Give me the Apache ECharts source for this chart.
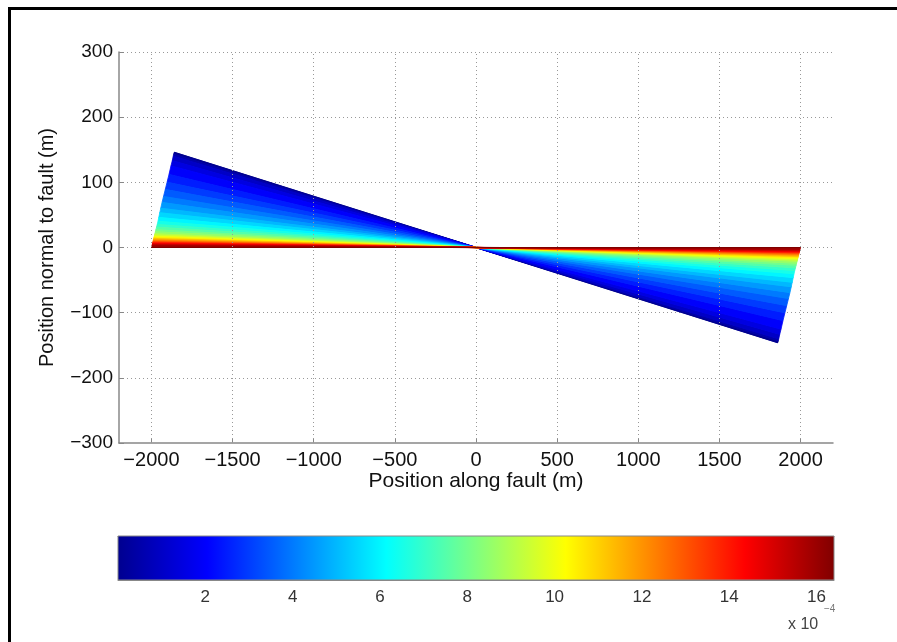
<!DOCTYPE html>
<html>
<head>
<meta charset="utf-8">
<title>Fault rotation</title>
<script src="https://cdn.jsdelivr.net/npm/echarts@6.0.0/dist/echarts.min.js"></script>
<style>
  html, body { margin: 0; padding: 0; background: #fff; }
  #chart { width: 897px; height: 642px; }
</style>
</head>
<body>
<div id="chart"></div>
<script>
// strain value of each line (x 10^-4), used for the colour
const strain = [0, 0.5, 1, 1.5, 2, 2.5, 3, 3.5, 4, 4.5, 5, 5.5, 6, 6.5, 7, 7.5, 8, 8.5,
  9, 9.5, 10, 10.5, 11, 11.5, 12, 12.5, 13, 13.5, 14, 14.5, 15, 15.5, 16, 16.4];
// left end of each line (m); every line runs through the origin to (-x, -y)
const leftX = [-1860, -1863, -1866, -1872, -1880, -1892, -1904, -1915, -1926, -1935, -1943,
  -1949, -1955, -1960, -1965, -1969, -1973, -1976, -1979, -1981, -1983, -1985, -1986, -1987,
  -1989, -1990, -1991, -1992, -1993, -1994, -1995, -1996, -1998, -2000];
const leftY = [146, 143, 140, 133, 125, 112, 100, 89, 78, 69, 60, 53, 46, 40, 35, 31, 27, 24,
  21, 19, 17, 15.5, 14, 12.8, 11.5, 10.3, 9, 8, 7, 6, 5, 3.6, 2, 0];

// tick values
const xTicks = [-2000, -1500, -1000, -500, 0, 500, 1000, 1500, 2000];
const barTicks = [2, 4, 6, 8, 10, 12, 14, 16];

const strainMax = 16.4;
const jet = ["#00008f", "#0000ff", "#0080ff", "#00ffff", "#80ff80", "#ffff00", "#ff8000", "#ff0000", "#800000"];

let chart = echarts.init(document.getElementById("chart"));

const minus = (v) => String(v).replace("-", "\u2212");
const font = "'Liberation Sans', Arial, Helvetica, sans-serif";
const gridLine = { color: "#999", type: [1, 3], width: 1 };

let option = {
  animation: false,
  backgroundColor: "#fff",
  textStyle: { fontFamily: font },
  grid: [
    { left: 119, right: 64, top: 52, bottom: 199 },
    // colour bar
    { left: 118, right: 63, top: 536, height: 44 },
  ],
  visualMap: {
    type: "continuous",
    show: false,
    min: 0,
    max: strainMax,
    dimension: 2,
    seriesIndex: 0,
    inRange: { color: jet },
  },
  xAxis: [
    {
      gridIndex: 0,
      type: "value",
      min: -2200,
      max: 2200,
      name: "Position along fault (m)",
      nameLocation: "middle",
      nameGap: 28,
      nameMoveOverlap: false,
      nameTextStyle: { fontSize: 21, color: "#111", fontFamily: font },
      axisLine: { onZero: false, lineStyle: { color: "#888", width: 1.5 } },
      axisTick: { inside: true, length: 5, customValues: xTicks, lineStyle: { color: "#888" } },
      axisLabel: { fontSize: 20, color: "#111", margin: 7, customValues: xTicks, formatter: minus },
      splitLine: { show: false },
    },
    {
      gridIndex: 1,
      type: "value",
      min: 0,
      max: strainMax,
      axisLine: { onZero: false, lineStyle: { color: "#888" } },
      axisTick: { inside: true, length: 4, customValues: barTicks, lineStyle: { color: "#444" } },
      axisLabel: { fontSize: 17, color: "#333", margin: 9, customValues: barTicks },
      splitLine: { show: false },
    },
    {
      gridIndex: 1,
      type: "value",
      position: "top",
      min: 0,
      max: strainMax,
      axisLine: { onZero: false, lineStyle: { color: "#888" } },
      axisTick: { inside: true, length: 4, customValues: barTicks, lineStyle: { color: "#444" } },
      axisLabel: { show: false },
      splitLine: { show: false },
    },
  ],
  yAxis: [
    {
      gridIndex: 0,
      type: "value",
      min: -300,
      max: 300,
      interval: 100,
      name: "Position normal to fault (m)",
      nameLocation: "middle",
      nameGap: 62,
      nameTextStyle: { fontSize: 20, color: "#111", fontFamily: font },
      axisLine: { show: true, onZero: false, lineStyle: { color: "#888", width: 1.5 } },
      axisTick: { show: true, inside: true, length: 5, lineStyle: { color: "#888" } },
      axisLabel: { fontSize: 19, color: "#111", margin: 6, formatter: minus },
      splitLine: { show: true, showMinLine: false, lineStyle: gridLine },
    },
    {
      gridIndex: 1,
      type: "value",
      min: 0,
      max: 1,
      show: false,
    },
  ],
  series: [
    {
      // fan of rotated lines, filled between neighbours
      type: "custom",
      xAxisIndex: 0,
      yAxisIndex: 0,
      data: strain.map((c, i) => [leftX[i], leftY[i], c]),
      encode: { x: 0, y: 1 },
      z: 3,
      renderItem: function (params, api) {
        let i = params.dataIndex;
        let color = api.visual("color");
        let o = api.coord([0, 0]);
        let a = api.coord([leftX[i], leftY[i]]);
        let a2 = api.coord([-leftX[i], -leftY[i]]);
        let children = [
          { type: "line", shape: { x1: a[0], y1: a[1], x2: a2[0], y2: a2[1] }, style: { stroke: color, lineWidth: 1.2 } },
        ];
        if (i < strain.length - 1) {
          let b = api.coord([leftX[i + 1], leftY[i + 1]]);
          let b2 = api.coord([-leftX[i + 1], -leftY[i + 1]]);
          children.unshift(
            { type: "polygon", shape: { points: [o, a, b] }, style: { fill: color, stroke: color, lineWidth: 0.8 } },
            { type: "polygon", shape: { points: [o, a2, b2] }, style: { fill: color, stroke: color, lineWidth: 0.8 } }
          );
        }
        return { type: "group", children: children };
      },
    },
    {
      // vertical dotted grid lines
      type: "line",
      xAxisIndex: 0,
      yAxisIndex: 0,
      data: [],
      z: 1,
      markLine: {
        silent: true,
        symbol: "none",
        label: { show: false },
        lineStyle: gridLine,
        data: xTicks.map((v) => ({ xAxis: v })),
      },
    },
    {
      // colour bar
      type: "custom",
      xAxisIndex: 1,
      yAxisIndex: 1,
      data: [[0, strainMax]],
      renderItem: function (params, api) {
        let p0 = api.coord([api.value(0), 0]);
        let p1 = api.coord([api.value(1), 1]);
        return {
          type: "rect",
          shape: { x: p0[0], y: p1[1], width: p1[0] - p0[0], height: p0[1] - p1[1] },
          style: {
            fill: {
              type: "linear", x: 0, y: 0, x2: 1, y2: 0,
              colorStops: jet.map((c, k) => ({ offset: k / (jet.length - 1), color: c })),
            },
            stroke: "#888",
            lineWidth: 1,
          },
        };
      },
      z: 1,
    },
  ],
  graphic: [
    {
      type: "rect",
      shape: { x: 9.5, y: 8.5, width: 1000, height: 1000 },
      style: { fill: "none", stroke: "#000", lineWidth: 3 },
      silent: true,
    },
    {
      type: "text",
      left: 788,
      top: 617,
      style: { text: "x 10", fontSize: 16, fill: "#444", fontFamily: font },
    },
    {
      type: "text",
      left: 824,
      top: 604,
      style: { text: "\u22124", fontSize: 10, fill: "#777", fontFamily: font },
    },
  ],
};

chart.setOption(option);
</script>
</body>
</html>
